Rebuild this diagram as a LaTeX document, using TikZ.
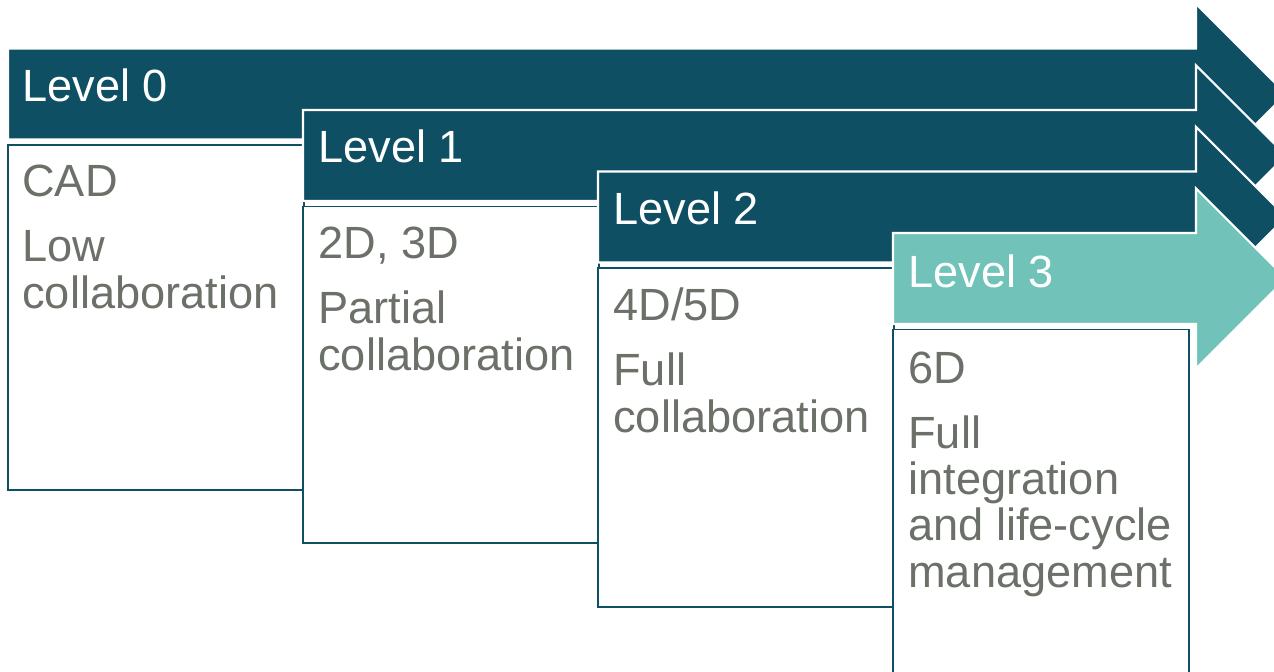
\documentclass[tikz,border=0pt]{standalone}
\usepackage{fontspec}
\setmainfont{Liberation Sans}
\usetikzlibrary{positioning}

\definecolor{levelblue}{HTML}{0F4F63}
\definecolor{levelteal}{HTML}{71C3BA}
\definecolor{notegray}{HTML}{6B7169}

\begin{document}
\begin{tikzpicture}[x=0.02cm,y=-0.02cm,
  level arrow/.style={draw=white,line width=1.2pt,line join=miter},
  level box/.style={draw=levelblue,fill=white,line width=0.8pt},
  level title/.style={anchor=base west,inner sep=0pt,text=white,font=\fontsize{25.7}{26.2}\selectfont},
  level note/.style={anchor=base west,inner sep=0pt,align=left,text=notegray,font=\fontsize{25.7}{26.2}\selectfont}]
  \useasboundingbox (0,0) rectangle (1274,672);
  % one chevron and one box per level, later levels on top
  \foreach \i/\x/\ybot/\col in {0/8/490/levelblue,1/303/543/levelblue,2/598/607/levelblue,3/893/700/levelteal} {
    \pgfmathsetmacro\c{94+61.5*\i}
    \draw[level arrow,fill=\col] (\x,\c-45.5) -- (1196,\c-45.5) -- (1196,\c-90) -- (1286,\c)
      -- (1196,\c+90) -- (1196,\c+45.5) -- (\x,\c+45.5) -- cycle;
    \draw[level box] (\x,\c+51) rectangle (\x+296,\ybot);
  }
  \node[level title] (lvl0) at (22,102) {Level 0};
  \node[level title] (lvl1) at (318,163) {Level 1};
  \node[level title] (lvl2) at (613,225) {Level 2};
  \node[level title] (lvl3) at (908,287) {Level 3};
  % notes sit on the baseline of their last line
  \node[level note] (note0) at (22,308) {CAD\\[10.8pt]Low\\collaboration};
  \node[level note] (note1) at (318,370) {2D, 3D\\[10.8pt]Partial\\collaboration};
  \node[level note] (note2) at (613,432) {4D/5D\\[10.8pt]Full\\collaboration};
  \node[level note] (note3) at (908,587) {6D\\[10.8pt]Full\\integration\\and life-cycle\\management};
\end{tikzpicture}
\end{document}
